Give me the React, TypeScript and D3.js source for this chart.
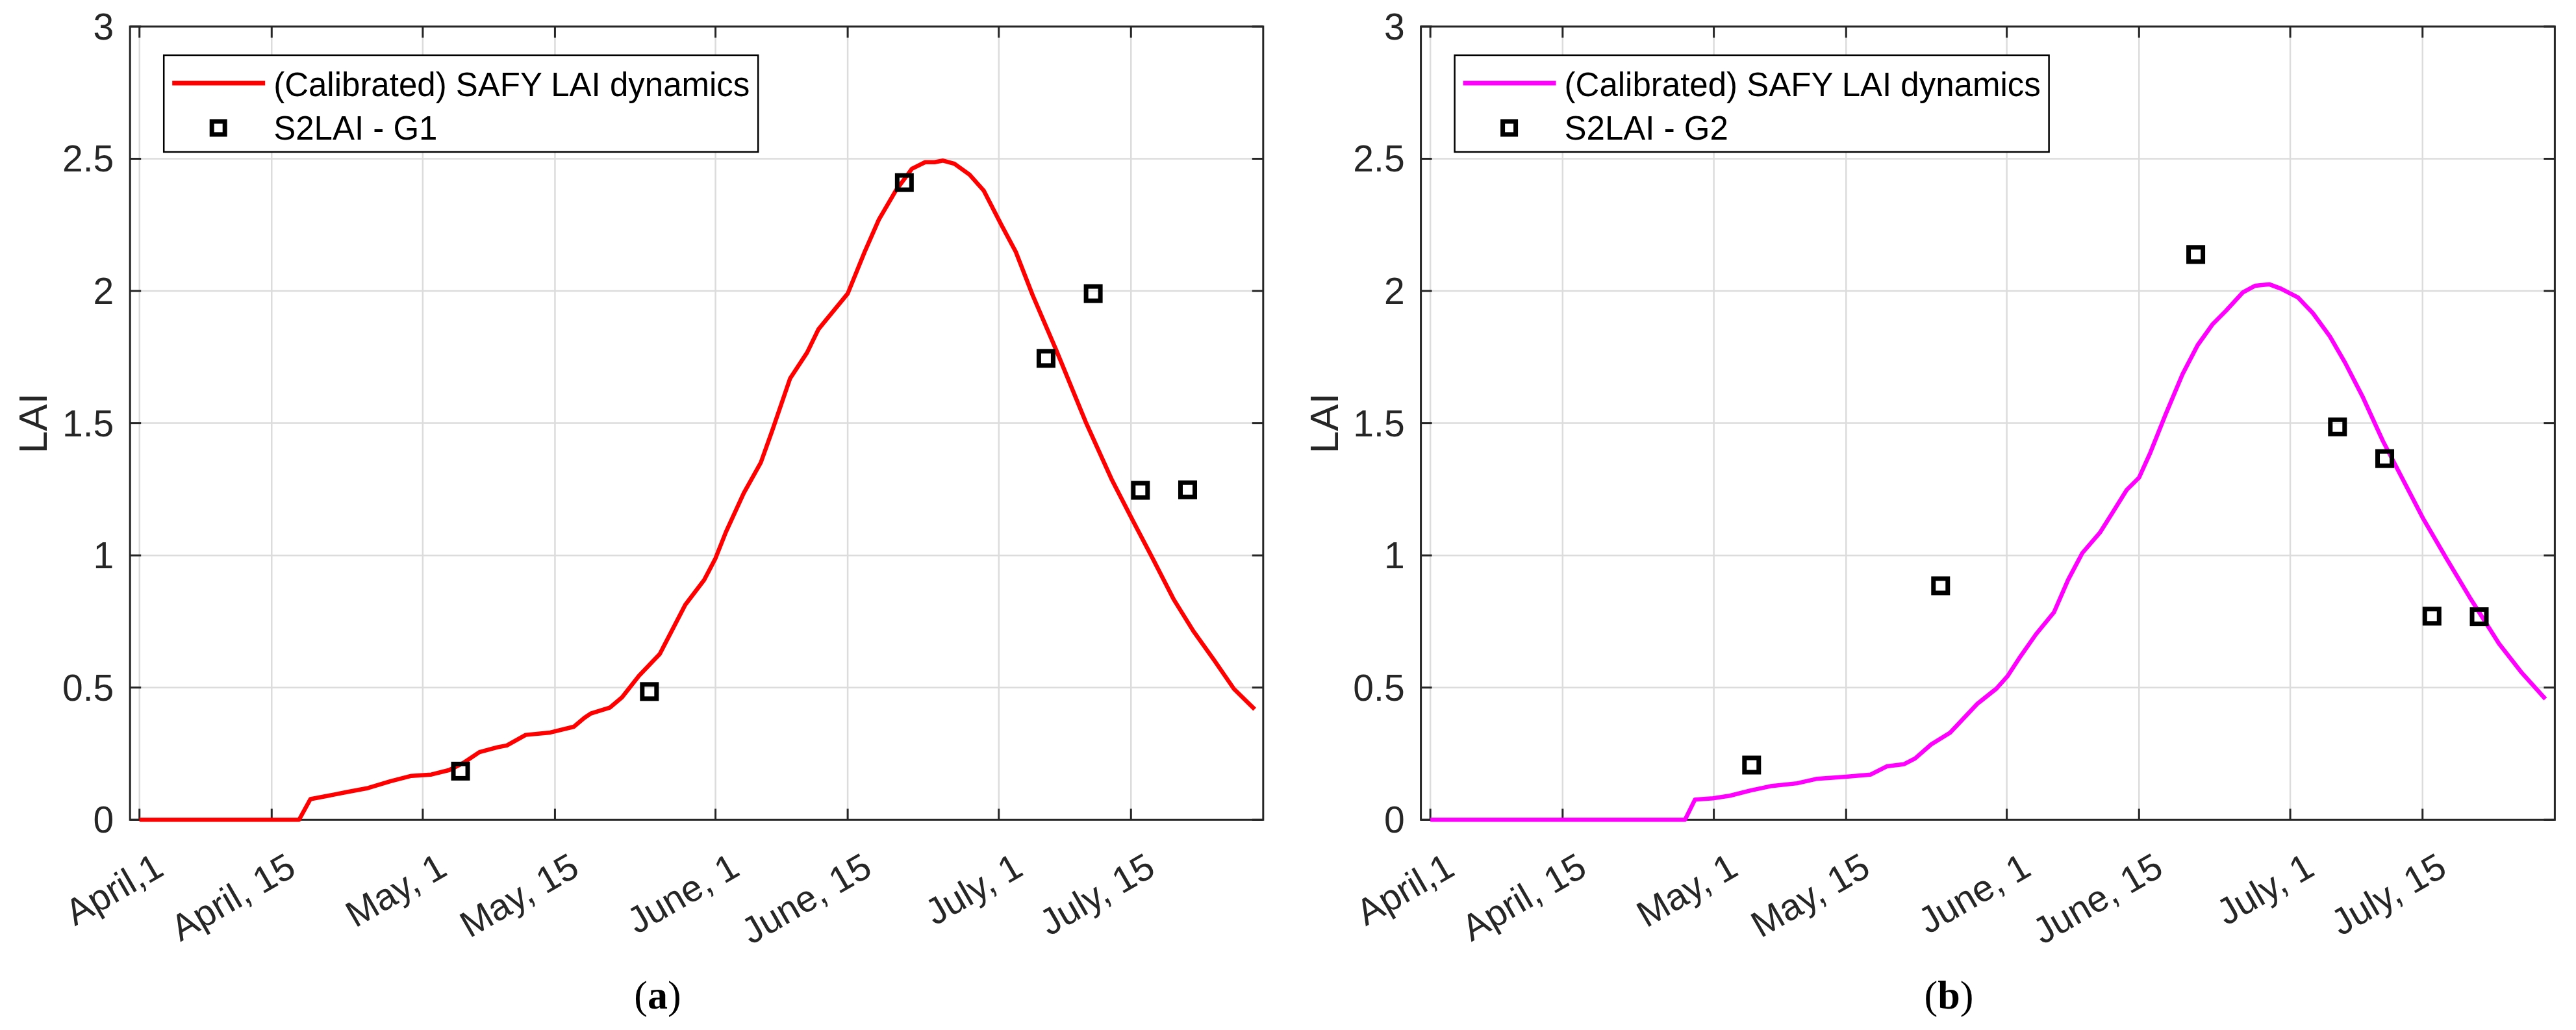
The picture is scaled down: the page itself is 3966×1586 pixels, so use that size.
import React, { useEffect } from "react";
import * as d3 from "d3";

// days since April 1
const tickDays = [0, 14, 30, 44, 61, 75, 91, 105];
const tickLabels = ["April,1", "April, 15", "May, 1", "May, 15", "June, 1", "June, 15", "July, 1", "July, 15"];
const yTicks = [0, 0.5, 1, 1.5, 2, 2.5, 3];

const curveADays = [0, 16.9, 18.1, 22.0, 24.2, 26.6, 28.8, 30.9, 32.8, 34.3, 36.0, 38.0, 38.9, 40.9, 43.5, 46.0, 47.1, 47.8, 49.8, 51.1, 52.9, 55.1, 57.8, 59.8, 61.0, 62.1, 64.0, 65.8, 67.0, 68.9, 70.7, 71.9, 75.0, 76.8, 78.3, 80.1, 81.8, 83.2, 84.2, 85.1, 86.3, 87.9, 89.4, 91.3, 92.8, 94.6, 97.1, 100.2, 103.0, 105.2, 107.3, 109.5, 111.6, 113.8, 115.9, 118.1];
const curveAValues = [0, 0, 0.078, 0.105, 0.12, 0.146, 0.166, 0.171, 0.188, 0.215, 0.256, 0.275, 0.281, 0.321, 0.33, 0.352, 0.385, 0.402, 0.424, 0.463, 0.545, 0.627, 0.813, 0.907, 0.989, 1.088, 1.236, 1.351, 1.471, 1.669, 1.767, 1.855, 1.99, 2.148, 2.27, 2.38, 2.462, 2.487, 2.487, 2.493, 2.481, 2.44, 2.38, 2.248, 2.148, 1.983, 1.775, 1.505, 1.284, 1.131, 0.988, 0.835, 0.714, 0.604, 0.495, 0.418];

const curveBDays = [0, 26.95, 28.0, 29.9, 31.7, 33.9, 36.0, 38.8, 40.9, 44.0, 46.6, 48.3, 50.1, 51.3, 53.0, 55.0, 57.9, 59.9, 61.1, 62.3, 64.1, 66.0, 67.5, 69.0, 70.9, 72.2, 73.7, 75.0, 76.2, 77.8, 79.6, 81.2, 82.8, 84.2, 86.0, 87.3, 88.8, 90.0, 91.8, 93.4, 95.2, 96.8, 98.7, 100.8, 102.7, 105.1, 107.6, 110.0, 113.1, 115.5, 118.0];
const curveBValues = [0, 0, 0.076, 0.081, 0.091, 0.111, 0.127, 0.138, 0.155, 0.163, 0.171, 0.202, 0.21, 0.232, 0.285, 0.329, 0.439, 0.496, 0.544, 0.61, 0.702, 0.785, 0.908, 1.009, 1.088, 1.162, 1.248, 1.294, 1.389, 1.532, 1.685, 1.795, 1.875, 1.925, 1.995, 2.02, 2.025, 2.009, 1.976, 1.916, 1.828, 1.729, 1.597, 1.433, 1.302, 1.137, 0.984, 0.841, 0.666, 0.556, 0.457];

const obsDays = [34, 54, 81, 96, 101, 106, 111];
const obsA = [0.184, 0.485, 2.41, 1.745, 1.99, 1.246, 1.248];
const obsB = [0.207, 0.885, 2.138, 1.486, 1.366, 0.77, 0.768];

const FONT = "'Liberation Sans', Arial, Helvetica, sans-serif";
const AX = "#262626";

type PanelProps = {
  left: number;
  right: number;
  color: string;
  days: number[];
  values: number[];
  obs: number[];
  obsLabel: string;
  sub: string;
};

function Panel({ left, right, color, days, values, obs, obsLabel, sub }: PanelProps) {
  const top = 40.9;
  const bottom = 1262.3;
  const x = d3.scaleLinear().domain([-1, 119]).range([left, right]);
  const y = d3.scaleLinear().domain([0, 3]).range([bottom, top]);
  const pts: [number, number][] = days.map((d, i) => [d, values[i]]);
  const line = d3
    .line<[number, number]>()
    .x((d) => x(d[0]))
    .y((d) => y(d[1]));
  const tl = 17;
  const lgX = left + 52;
  const lgY = 85;
  const center = (left + right) / 2 - 60;
  return (
    <g>
      {/* grid */}
      {tickDays.map((d) => (
        <line key={"gx" + d} x1={x(d)} x2={x(d)} y1={top} y2={bottom} stroke="#dcdcdc" strokeWidth={2.5} />
      ))}
      {yTicks.map((v) => (
        <line key={"gy" + v} x1={left} x2={right} y1={y(v)} y2={y(v)} stroke="#dcdcdc" strokeWidth={2.5} />
      ))}
      {/* box */}
      <rect x={left} y={top} width={right - left} height={bottom - top} fill="none" stroke={AX} strokeWidth={3} />
      {/* ticks */}
      {tickDays.map((d) => (
        <g key={"tx" + d}>
          <line x1={x(d)} x2={x(d)} y1={bottom} y2={bottom - tl} stroke={AX} strokeWidth={3} />
          <line x1={x(d)} x2={x(d)} y1={top} y2={top + tl} stroke={AX} strokeWidth={3} />
        </g>
      ))}
      {yTicks.map((v) => (
        <g key={"ty" + v}>
          <line x1={left} x2={left + tl} y1={y(v)} y2={y(v)} stroke={AX} strokeWidth={3} />
          <line x1={right} x2={right - tl} y1={y(v)} y2={y(v)} stroke={AX} strokeWidth={3} />
        </g>
      ))}
      {/* tick labels */}
      {yTicks.map((v) => (
        <text key={"yl" + v} x={left - 25} y={y(v)} textAnchor="end" dominantBaseline="central" fontFamily={FONT} fontSize={57} fill={AX}>
          {String(v)}
        </text>
      ))}
      {tickDays.map((d, i) => {
        const ax = x(d) + 20;
        const ay = bottom + 48;
        return (
          <text key={"xl" + d} x={ax} y={ay} dy="0.72em" textAnchor="end" transform={`rotate(-30 ${ax} ${ay})`} fontFamily={FONT} fontSize={57} fill={AX}>
            {tickLabels[i]}
          </text>
        );
      })}
      <text x={0} y={0} transform={`translate(${left - 128},${y(1.5)}) rotate(-90)`} textAnchor="middle" fontFamily={FONT} fontSize={62} fill={AX}>
        LAI
      </text>
      {/* data */}
      <path d={line(pts) || ""} fill="none" stroke={color} strokeWidth={6.5} strokeLinejoin="round" />
      {obsDays.map((d, i) => (
        <rect key={"o" + i} x={x(d) - 11} y={y(obs[i]) - 11} width={22} height={22} fill="none" stroke="#000" strokeWidth={7} />
      ))}
      {/* legend */}
      <rect x={lgX} y={lgY} width={915} height={149} fill="#fff" stroke="#000" strokeWidth={2.5} />
      <line x1={lgX + 13} x2={lgX + 156} y1={lgY + 43} y2={lgY + 43} stroke={color} strokeWidth={7} />
      <text x={lgX + 169} y={lgY + 45} dominantBaseline="central" fontFamily={FONT} fontSize={51} fill="#000">
        (Calibrated) SAFY LAI dynamics
      </text>
      <rect x={lgX + 84 - 10} y={lgY + 112 - 10} width={20} height={20} fill="none" stroke="#000" strokeWidth={7} />
      <text x={lgX + 169} y={lgY + 112} dominantBaseline="central" fontFamily={FONT} fontSize={51} fill="#000">
        {obsLabel}
      </text>
      {/* subfigure label */}
      <text x={center} y={1553} textAnchor="middle" fontFamily="'Liberation Serif', 'Times New Roman', serif" fontSize={62} fill="#000">
        (<tspan fontWeight="bold">{sub}</tspan>)
      </text>
    </g>
  );
}

export default function App() {
  useEffect(() => {
    document.body.style.margin = "0";
  }, []);
  return (
    <svg width={3966} height={1586} viewBox="0 0 3966 1586" style={{ display: "block", background: "#fff" }}>
      <rect x={0} y={0} width={3966} height={1586} fill="#fff" />
      <Panel left={200.2} right={1944.8} color="#ff0000" days={curveADays} values={curveAValues} obs={obsA} obsLabel="S2LAI - G1" sub="a" />
      <Panel left={2187.6} right={3933.4} color="#ff00ff" days={curveBDays} values={curveBValues} obs={obsB} obsLabel="S2LAI - G2" sub="b" />
    </svg>
  );
}
